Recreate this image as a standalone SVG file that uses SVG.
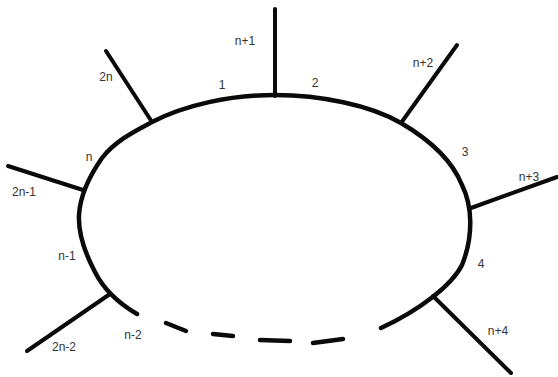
<svg xmlns="http://www.w3.org/2000/svg" width="558" height="377" viewBox="0 0 558 377">
<style>
.ring{fill:none;stroke:#0a0a0a;stroke-width:4.5;stroke-linecap:round;stroke-linejoin:round}
.spoke{stroke:#0a0a0a;stroke-width:4;stroke-linecap:round}
.dash{fill:none;stroke:#0a0a0a;stroke-width:4.5;stroke-linecap:round}
.lbl{font-family:"Liberation Sans",Arial,sans-serif;font-size:12px;fill:#333;text-anchor:middle}
</style>
<rect width="558" height="377" fill="#fff"/>
<g id="connectors">
<path class="ring" d="M137,314 C120,304 104,290 95,272 C86,255 78,236 79,215 C80,198 88,178 102,158 C115,141 135,131 152,122 C185,105 230,95 275,95 C320,95 370,105 401,123 C430,140 452,160 462,185 C472,205 474,235 462,265 C452,285 420,310 381,328"/>
<path class="dash" d="M166,323 L186,331"/>
<path class="dash" d="M213,334 L233,336"/>
<path class="dash" d="M260,340 L290,341"/>
<path class="dash" d="M313,343 L343,339"/>
<line class="spoke" x1="275" y1="96" x2="275" y2="9"/>
<line class="spoke" x1="152" y1="122" x2="106" y2="51"/>
<line class="spoke" x1="83" y1="190" x2="8" y2="166"/>
<line class="spoke" x1="110" y1="294" x2="27" y2="351"/>
<line class="spoke" x1="401" y1="123" x2="457" y2="45"/>
<line class="spoke" x1="471" y1="208" x2="557" y2="177"/>
<line class="spoke" x1="433" y1="296" x2="511" y2="373"/>
</g>
<g id="node-1"><text class="lbl" x="222" y="89">1</text></g>
<g id="node-2"><text class="lbl" x="315" y="87">2</text></g>
<g id="node-3"><text class="lbl" x="465" y="156">3</text></g>
<g id="node-4"><text class="lbl" x="481" y="268">4</text></g>
<g id="node-n"><text class="lbl" x="89" y="161">n</text></g>
<g id="node-n-1"><text class="lbl" x="67" y="260">n-1</text></g>
<g id="node-n-2"><text class="lbl" x="133" y="339">n-2</text></g>
<g id="node-n+1"><text class="lbl" x="245" y="45">n+1</text></g>
<g id="node-n+2"><text class="lbl" x="423" y="67">n+2</text></g>
<g id="node-n+3"><text class="lbl" x="529" y="181">n+3</text></g>
<g id="node-n+4"><text class="lbl" x="498" y="335">n+4</text></g>
<g id="node-2n"><text class="lbl" x="106" y="81">2n</text></g>
<g id="node-2n-1"><text class="lbl" x="24" y="196">2n-1</text></g>
<g id="node-2n-2"><text class="lbl" x="64" y="351">2n-2</text></g>
</svg>
